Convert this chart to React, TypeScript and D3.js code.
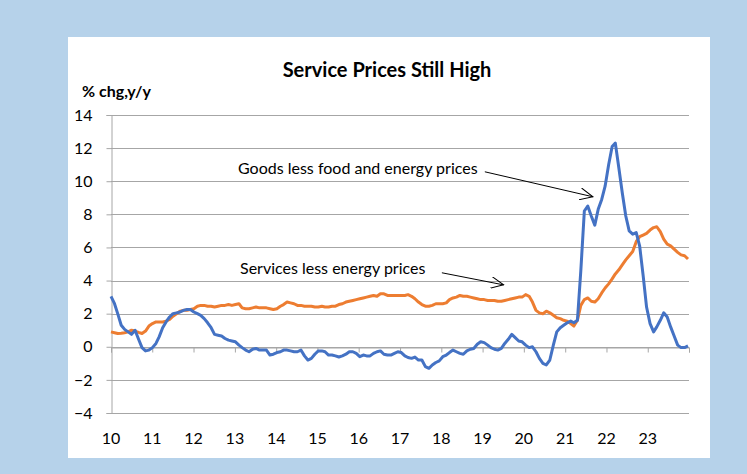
import { useEffect, useRef } from "react";
import * as d3 from "d3";

// monthly y/y % change, Jan 2010 .. Dec 2023
const goodsPrices = [
  3.05, 2.6, 2.0, 1.3, 1.05, 0.9, 0.75, 1.0, 0.45, -0.05, -0.25, -0.2, // 2010
  -0.05, 0.2, 0.6, 1.15, 1.5, 1.8, 2.0, 2.05, 2.1, 2.2, 2.25, 2.25, // 2011
  2.1, 2.0, 1.9, 1.7, 1.45, 1.15, 0.75, 0.7, 0.65, 0.5, 0.4, 0.35, // 2012
  0.3, 0.1, -0.05, -0.2, -0.3, -0.15, -0.1, -0.2, -0.2, -0.2, -0.5, -0.45, // 2013
  -0.35, -0.3, -0.2, -0.2, -0.25, -0.3, -0.3, -0.2, -0.55, -0.8, -0.7, -0.45, // 2014
  -0.25, -0.25, -0.3, -0.5, -0.5, -0.55, -0.62, -0.55, -0.45, -0.3, -0.3, -0.4, // 2015
  -0.6, -0.5, -0.55, -0.55, -0.4, -0.3, -0.25, -0.45, -0.5, -0.5, -0.4, -0.3, // 2016
  -0.35, -0.55, -0.65, -0.7, -0.62, -0.8, -0.8, -1.2, -1.3, -1.1, -0.95, -0.85, // 2017
  -0.6, -0.5, -0.35, -0.2, -0.3, -0.4, -0.45, -0.25, -0.15, -0.1, 0.15, 0.3, // 2018
  0.25, 0.1, -0.05, -0.15, -0.2, -0.1, 0.2, 0.45, 0.75, 0.55, 0.35, 0.3, // 2019
  0.1, -0.05, 0.0, -0.3, -0.7, -1.0, -1.1, -0.8, 0.1, 0.9, 1.15, 1.3, // 2020
  1.45, 1.55, 1.45, 1.6, 4.6, 8.2, 8.5, 7.9, 7.35, 8.3, 8.9, 9.7, // 2021
  11.0, 12.1, 12.3, 10.8, 9.3, 7.9, 7.0, 6.8, 6.9, 6.1, 4.3, 2.4, // 2022
  1.4, 0.9, 1.2, 1.6, 2.05, 1.8, 1.2, 0.65, 0.1, -0.05, -0.05, 0.05, // 2023
];

const servicesPrices = [
  0.9, 0.85, 0.8, 0.82, 0.85, 0.9, 1.0, 0.95, 0.87, 0.8, 0.95, 1.25, // 2010
  1.4, 1.5, 1.5, 1.5, 1.55, 1.65, 1.85, 2.0, 2.15, 2.2, 2.2, 2.25, // 2011
  2.3, 2.45, 2.5, 2.5, 2.45, 2.45, 2.4, 2.45, 2.5, 2.5, 2.55, 2.5, // 2012
  2.55, 2.6, 2.35, 2.3, 2.3, 2.35, 2.4, 2.35, 2.35, 2.35, 2.3, 2.25, // 2013
  2.3, 2.45, 2.55, 2.7, 2.65, 2.6, 2.5, 2.5, 2.45, 2.45, 2.45, 2.4, // 2014
  2.4, 2.45, 2.4, 2.4, 2.45, 2.45, 2.55, 2.6, 2.7, 2.75, 2.8, 2.85, // 2015
  2.9, 2.95, 3.0, 3.05, 3.1, 3.05, 3.2, 3.2, 3.1, 3.1, 3.1, 3.1, // 2016
  3.1, 3.1, 3.15, 3.05, 2.9, 2.7, 2.55, 2.45, 2.45, 2.5, 2.6, 2.6, // 2017
  2.6, 2.65, 2.85, 2.95, 3.0, 3.1, 3.05, 3.05, 3.0, 2.95, 2.9, 2.85, // 2018
  2.85, 2.8, 2.8, 2.8, 2.75, 2.75, 2.8, 2.85, 2.9, 2.95, 3.0, 3.0, // 2019
  3.15, 3.05, 2.7, 2.2, 2.05, 2.0, 2.15, 2.05, 1.9, 1.75, 1.7, 1.6, // 2020
  1.55, 1.4, 1.25, 1.6, 2.5, 2.85, 2.95, 2.75, 2.7, 2.9, 3.25, 3.55, // 2021
  3.8, 4.1, 4.4, 4.65, 4.95, 5.25, 5.5, 5.75, 6.35, 6.65, 6.75, 6.85, // 2022
  7.05, 7.2, 7.25, 6.95, 6.5, 6.2, 6.1, 5.9, 5.7, 5.55, 5.5, 5.3, // 2023
];

const yearLabels = ["10", "11", "12", "13", "14", "15", "16", "17", "18", "19", "20", "21", "22", "23"];
const yTicks = [-4, -2, 0, 2, 4, 6, 8, 10, 12, 14];

const FONT = "Lato, 'Open Sans', sans-serif";

const App = () => {
  const ref = useRef<SVGSVGElement>(null);

  useEffect(() => {
    const svg = d3.select(ref.current);
    svg.selectAll("*").remove();

    const months = d3.timeMonth.range(new Date(2010, 0, 1), new Date(2024, 0, 1));
    // last month sits near the right end of the axis
    const x = d3.scaleTime().domain([new Date(2010, 0, 1), new Date(2023, 11, 1)]).range([111, 688]);
    const y = d3.scaleLinear().domain([-4, 14]).range([413, 115]);
    const axisX = d3.scaleTime().domain([new Date(2010, 0, 1), new Date(2024, 0, 1)]).range([111, 689]);

    // backdrop + white panel
    svg.append("rect").attr("width", 747).attr("height", 474).attr("fill", "#b6d2ea");
    svg.append("rect").attr("x", 68).attr("y", 37).attr("width", 642).attr("height", 421).attr("fill", "#fff");

    // gridlines
    svg.append("g").selectAll("line").data(yTicks).join("line")
      .attr("x1", 111).attr("x2", 689)
      .attr("y1", (d) => Math.round(y(d)) + 0.5).attr("y2", (d) => Math.round(y(d)) + 0.5)
      .attr("stroke", "#a6a6a6").attr("stroke-width", 1);

    // y axis
    const yAxis = svg.append("g").attr("transform", "translate(111.5,0)")
      .call(d3.axisLeft(y).tickValues(yTicks).tickSize(5).tickPadding(14).tickFormat(d3.format("d")));
    yAxis.select(".domain").attr("stroke", "#a6a6a6");
    yAxis.selectAll(".tick line").attr("stroke", "#a6a6a6");
    yAxis.selectAll("text").attr("font-family", FONT).attr("font-size", 16).attr("fill", "#000");

    // x axis crossing at zero
    const yearStarts = d3.timeYear.range(new Date(2010, 0, 1), new Date(2025, 0, 1));
    const xAxis = svg.append("g").attr("transform", `translate(0,${Math.round(y(0)) + 0.5})`)
      .call(d3.axisBottom(axisX).tickValues(yearStarts).tickSize(5).tickFormat(() => ""));
    xAxis.select(".domain").attr("stroke", "#a6a6a6");
    xAxis.selectAll(".tick line").attr("stroke", "#a6a6a6");

    // year labels at the bottom
    svg.append("g").selectAll("text").data(yearLabels).join("text")
      .attr("x", (_d, i) => axisX(yearStarts[i]))
      .attr("y", 444)
      .attr("text-anchor", "middle")
      .attr("font-family", FONT).attr("font-size", 16)
      .text((d) => d);

    // title + unit
    svg.append("text").attr("x", 387).attr("y", 77).attr("text-anchor", "middle")
      .attr("font-family", FONT).attr("font-weight", "bold").attr("font-size", 20)
      .text("Service Prices Still High");
    svg.append("text").attr("x", 82).attr("y", 97)
      .attr("font-family", FONT).attr("font-weight", "bold").attr("font-size", 16)
      .text("% chg,y/y");

    const line = d3.line<number>()
      .x((_d, i) => x(months[i]))
      .y((d) => y(d));

    svg.append("path").datum(servicesPrices)
      .attr("fill", "none").attr("stroke", "#ed7d31").attr("stroke-width", 3)
      .attr("stroke-linejoin", "round").attr("d", line);
    svg.append("path").datum(goodsPrices)
      .attr("fill", "none").attr("stroke", "#4472c4").attr("stroke-width", 3)
      .attr("stroke-linejoin", "round").attr("d", line);

    // annotations
    svg.append("defs").append("marker")
      .attr("id", "arr").attr("viewBox", "0 0 14 12").attr("refX", 13).attr("refY", 6)
      .attr("markerWidth", 14).attr("markerHeight", 12).attr("markerUnits", "userSpaceOnUse")
      .attr("orient", "auto")
      .append("path").attr("d", "M0,0 L13,6 L0,12").attr("fill", "none").attr("stroke", "#000").attr("stroke-width", 1);

    const notes = [
      { text: "Goods less food and energy prices", tx: 238, ty: 174, from: [new Date(2019, 0, 21), 10.57], to: [new Date(2021, 8, 3), 9.06] },
      { text: "Services less energy prices", tx: 240, ty: 274, from: [new Date(2018, 0, 6), 4.47], to: [new Date(2019, 6, 6), 3.74] },
    ];
    notes.forEach((n) => {
      svg.append("text").attr("x", n.tx).attr("y", n.ty)
        .attr("font-family", FONT).attr("font-size", 16).text(n.text);
      svg.append("line")
        .attr("x1", axisX(n.from[0] as Date)).attr("y1", y(n.from[1] as number))
        .attr("x2", axisX(n.to[0] as Date)).attr("y2", y(n.to[1] as number))
        .attr("stroke", "#000").attr("stroke-width", 1).attr("marker-end", "url(#arr)");
    });
  }, []);

  return (
    <svg ref={ref} width={747} height={474} style={{ position: "absolute", left: 0, top: 0 }} />
  );
};

export default App;
